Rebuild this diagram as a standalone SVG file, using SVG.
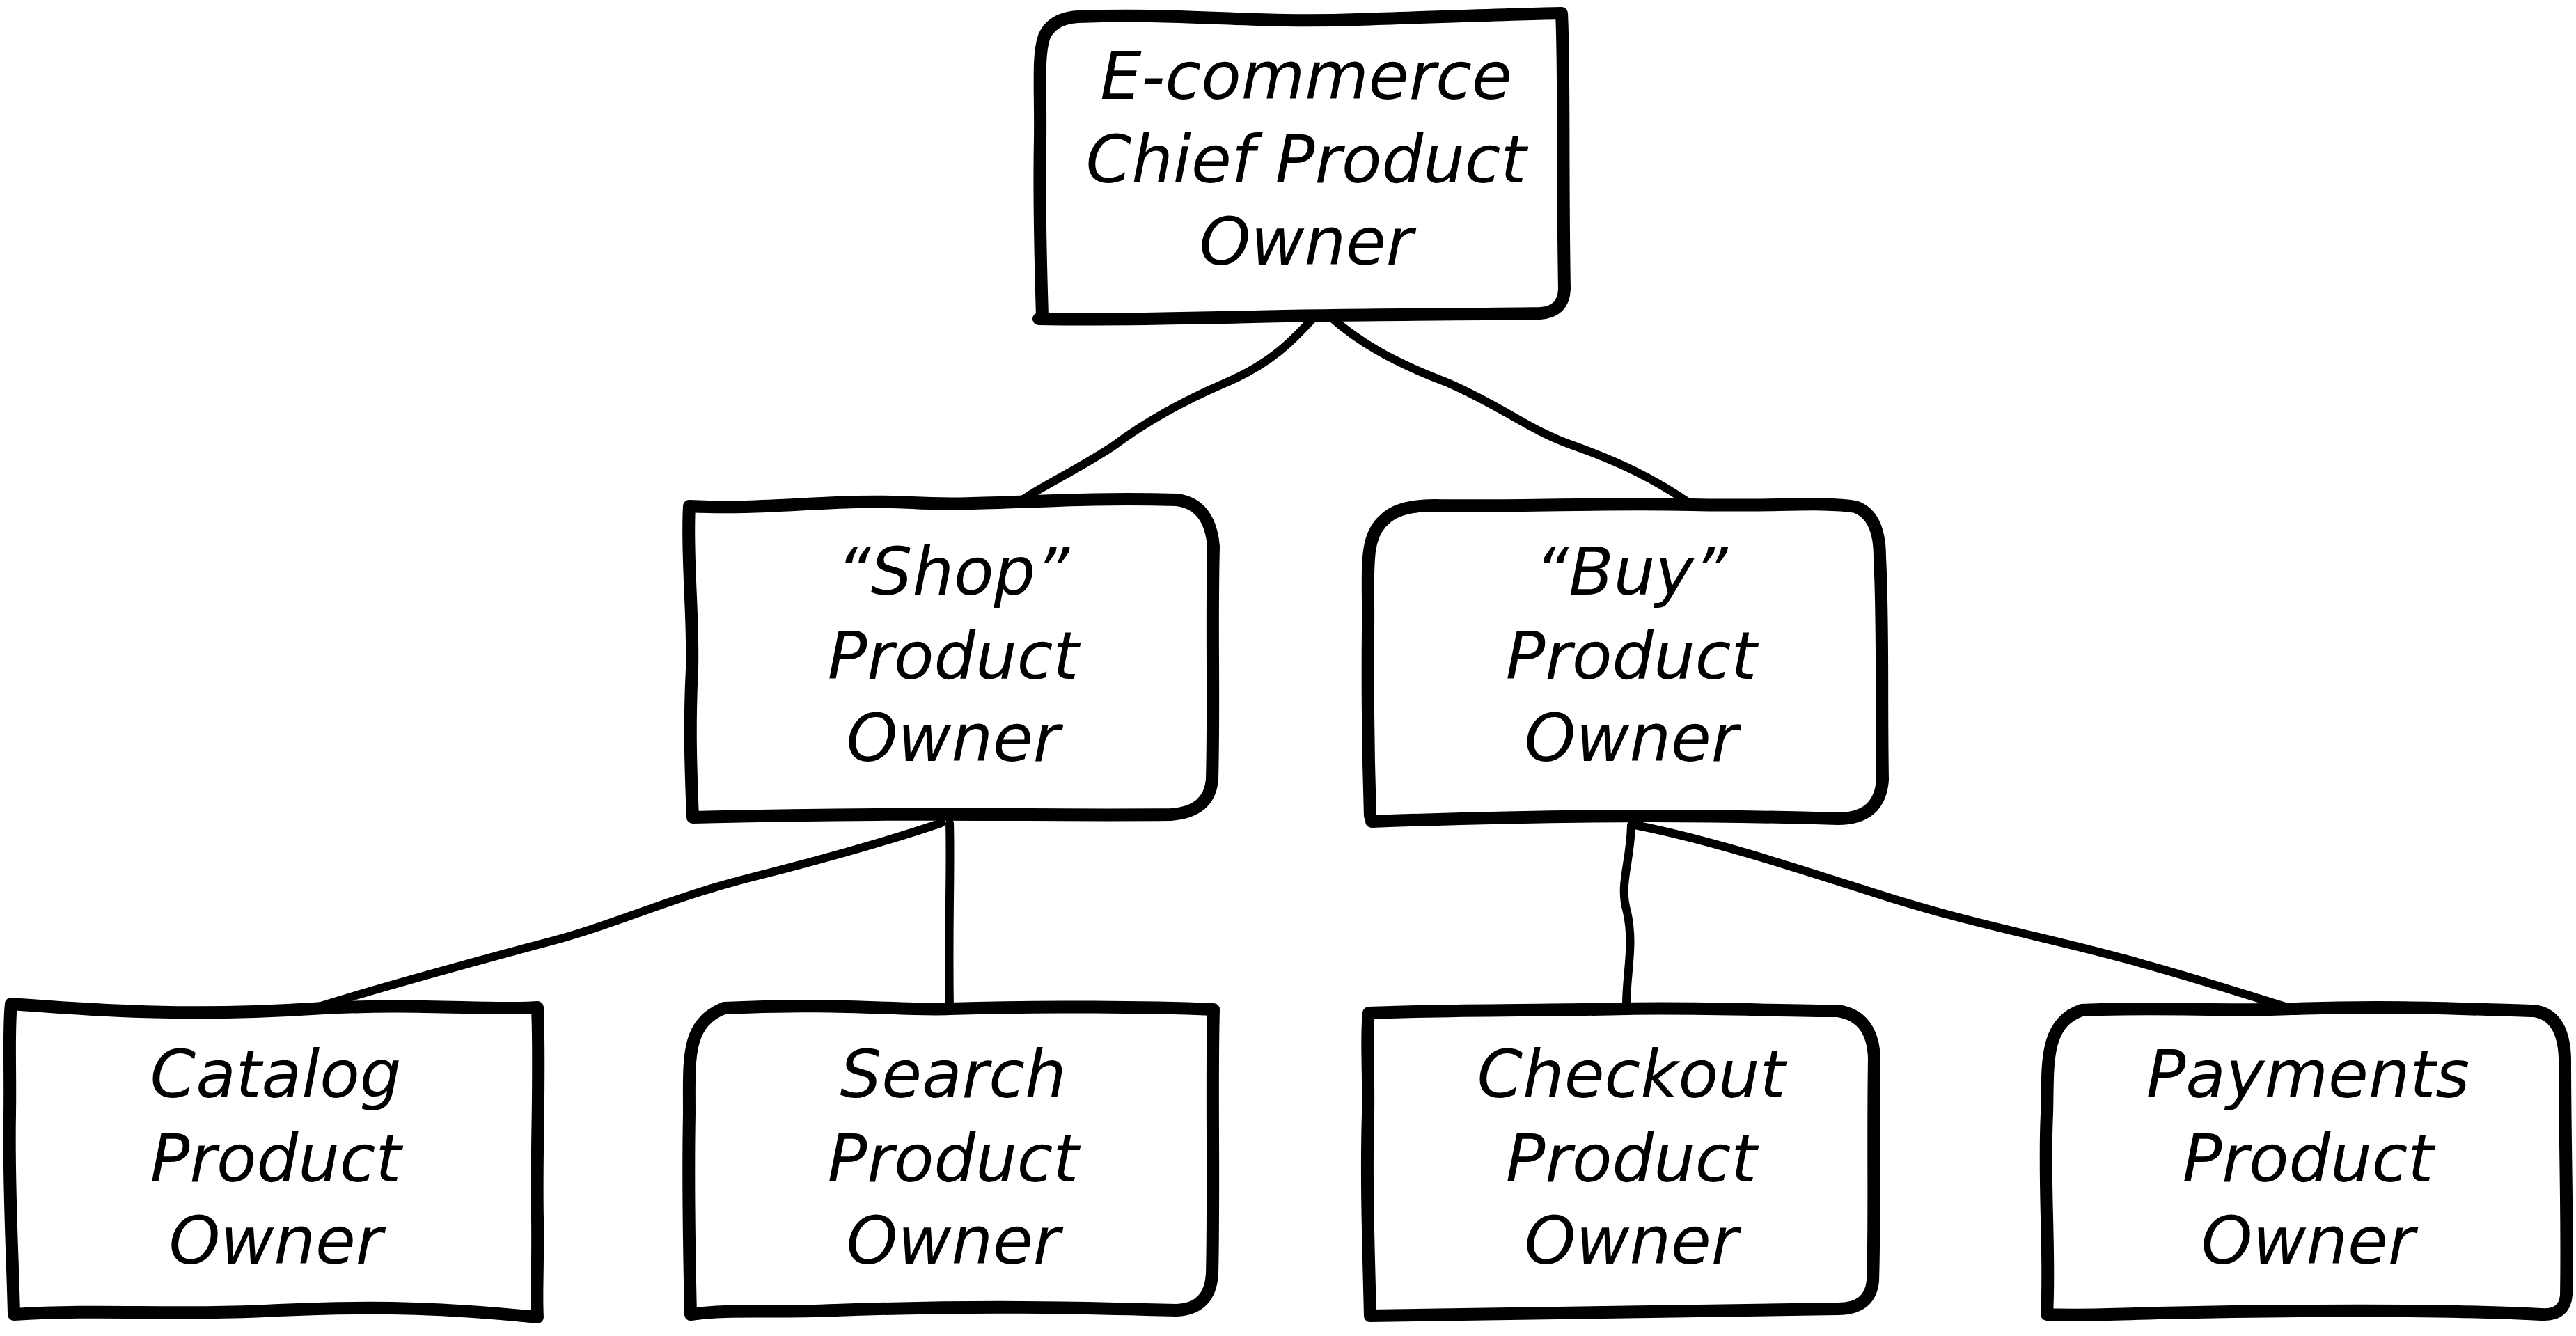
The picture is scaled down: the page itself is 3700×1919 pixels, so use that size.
<svg xmlns="http://www.w3.org/2000/svg" width="3700" height="1919" viewBox="0 0 3700 1919">
<style>
.box{fill:#fff;stroke:#000;stroke-width:18;stroke-linecap:round;stroke-linejoin:round}
.conn{fill:none;stroke:#000;stroke-width:12;stroke-linecap:round;stroke-linejoin:round}
text{font-family:"DejaVu Sans","Liberation Sans",sans-serif;font-style:italic;font-size:94px;fill:#000;text-anchor:middle}
</style>
<rect width="3700" height="1919" fill="#fff"/>
<g id="connectors">
<path class="conn" d="M1888,455 C1860,485 1830,520 1760,550 C1690,580 1640,610 1600,640 C1540,680 1480,705 1444,736"/>
<path class="conn" d="M1911,455 C1950,490 2000,520 2080,550 C2160,585 2200,620 2260,640 C2330,665 2380,690 2430,725"/>
<path class="conn" d="M1352,1182 C1300,1200 1200,1230 1080,1260 C960,1290 880,1330 780,1355 C650,1390 540,1420 448,1449"/>
<path class="conn" d="M1364,1182 C1366,1250 1362,1320 1364,1449"/>
<path class="conn" d="M2343,1185 C2342,1240 2325,1270 2337,1310 C2348,1360 2335,1400 2336,1449"/>
<path class="conn" d="M2348,1185 C2450,1205 2560,1240 2700,1285 C2840,1330 2960,1350 3080,1385 C3170,1410 3230,1430 3292,1449"/>
</g>
<g id="n-top">
<path class="box" d="M1497,455 C1495,380 1492,300 1494,200 C1495,130 1490,80 1500,52 Q1512,26 1548,24 C1700,18 1800,34 1950,28 C2080,24 2180,20 2243,19 C2247,100 2244,250 2247,415 Q2246,448 2212,450 C2100,452 1950,451 1800,455 C1700,457 1600,460 1492,458 Z"/>
<text x="1876" y="142">E-commerce</text>
<text x="1876" y="262">Chief Product</text>
<text x="1876" y="380">Owner</text>
</g>
<g id="n-shop">
<path class="box" d="M990,727 C1100,733 1200,716 1310,722 C1420,728 1520,713 1690,718 Q1738,724 1743,785 C1740,900 1744,1000 1741,1120 Q1737,1166 1682,1170 C1500,1172 1300,1166 995,1174 C992,1100 990,1040 994,960 C996,880 986,800 990,727 Z"/>
<text x="1369" y="854">“Shop”</text>
<text x="1369" y="975">Product</text>
<text x="1369" y="1093">Owner</text>
</g>
<g id="n-buy">
<path class="box" d="M1968,1172 C1965,1080 1964,1000 1965,900 C1966,820 1958,770 1990,745 Q2010,726 2060,726 C2200,728 2300,722 2430,725 C2540,728 2620,720 2665,728 Q2700,740 2700,800 C2705,900 2702,1000 2704,1120 Q2700,1176 2640,1176 C2500,1172 2300,1168 1970,1180"/>
<text x="2343" y="854">“Buy”</text>
<text x="2343" y="975">Product</text>
<text x="2343" y="1093">Owner</text>
</g>
<g id="n-catalog">
<path class="box" d="M16,1442 C100,1448 250,1462 448,1449 C600,1440 700,1452 772,1447 C776,1550 770,1650 772,1750 C773,1820 770,1860 772,1892 C650,1880 550,1875 400,1882 C250,1890 150,1880 20,1888 C18,1800 12,1700 14,1600 C15,1530 12,1480 16,1442 Z"/>
<text x="396" y="1576">Catalog</text>
<text x="396" y="1697">Product</text>
<text x="396" y="1815">Owner</text>
</g>
<g id="n-search">
<path class="box" d="M1040,1448 C1200,1440 1300,1452 1364,1449 C1500,1445 1650,1446 1743,1450 C1740,1550 1744,1700 1741,1830 Q1738,1880 1690,1882 C1550,1878 1400,1875 1200,1882 C1100,1886 1050,1880 992,1888 C990,1800 988,1700 990,1600 C990,1520 985,1470 1040,1448 Z"/>
<text x="1369" y="1576">Search</text>
<text x="1369" y="1697">Product</text>
<text x="1369" y="1815">Owner</text>
</g>
<g id="n-checkout">
<path class="box" d="M1966,1455 C2100,1450 2200,1452 2336,1449 C2450,1447 2550,1452 2640,1452 Q2690,1460 2692,1520 C2690,1650 2693,1750 2690,1840 Q2686,1880 2640,1880 C2500,1884 2300,1886 1968,1890 C1966,1800 1962,1700 1965,1600 C1966,1530 1962,1490 1966,1455 Z"/>
<text x="2343" y="1576">Checkout</text>
<text x="2343" y="1697">Product</text>
<text x="2343" y="1815">Owner</text>
</g>
<g id="n-payments">
<path class="box" d="M2990,1451 C3100,1446 3200,1453 3292,1449 C3450,1444 3550,1450 3640,1452 Q3682,1458 3684,1520 C3684,1650 3688,1750 3686,1860 Q3684,1890 3650,1888 C3500,1880 3300,1882 3100,1886 C3040,1888 2980,1890 2940,1888 C2945,1800 2935,1700 2940,1600 C2942,1530 2935,1470 2990,1451 Z"/>
<text x="3315" y="1576">Payments</text>
<text x="3315" y="1697">Product</text>
<text x="3315" y="1815">Owner</text>
</g>
</svg>
